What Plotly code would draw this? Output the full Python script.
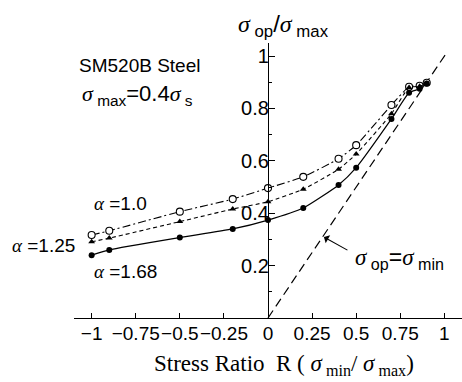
import plotly.graph_objects as go

# Stress ratio R = sigma_min / sigma_max
R = [-1.0, -0.9, -0.5, -0.2, 0.0, 0.2, 0.4, 0.5, 0.7, 0.8, 0.86, 0.9]

# Opening stress ratio sigma_op / sigma_max for each biaxial ratio alpha
op_a100 = [0.317, 0.333, 0.406, 0.454, 0.496, 0.539, 0.608, 0.660, 0.813, 0.883, 0.887, 0.898]
op_a125 = [0.291, 0.305, 0.368, 0.416, 0.444, 0.492, 0.568, 0.626, 0.780, 0.880, 0.885, 0.895]
op_a168 = [0.240, 0.260, 0.307, 0.340, 0.374, 0.420, 0.508, 0.574, 0.760, 0.860, 0.875, 0.895]

# Reference line sigma_op = sigma_min
ref_R = [0.0, 1.02]
ref_op = [0.0, 1.02]

x_ticks = [-1, -0.75, -0.5, -0.25, 0, 0.25, 0.5, 0.75, 1]
x_tick_text = ["\u22121", "\u22120.75", "\u22120.5", "\u22120.25", "0", "0.25", "0.5", "0.75", "1"]
y_ticks = [0.2, 0.4, 0.6, 0.8, 1.0]
y_tick_text = ["0.2", "0.4", "0.6", "0.8", "1"]

SANS = "Liberation Sans, Arial, sans-serif"
SERIF = "Liberation Serif, Times New Roman, serif"
SIG = '<span style="font-family:Liberation Serif;font-style:italic">σ</span>'
ALPHA = '<span style="font-family:Liberation Serif;font-style:italic">α</span>'

fig = go.Figure()

fig.add_trace(go.Scatter(
    x=ref_R, y=ref_op, mode="lines",
    line=dict(color="black", width=1.2, dash="9px,5px"),
    showlegend=False, hoverinfo="skip"))

fig.add_trace(go.Scatter(
    x=R, y=op_a100, mode="lines+markers",
    line=dict(color="black", width=1.1, dash="8px,3px,2px,3px", shape="spline", smoothing=0.5),
    marker=dict(symbol="circle", size=7, color="white", line=dict(width=1.1, color="black")),
    showlegend=False))

fig.add_trace(go.Scatter(
    x=R, y=op_a125, mode="lines+markers",
    line=dict(color="black", width=1.1, dash="4px,3px", shape="spline", smoothing=0.5),
    marker=dict(symbol="triangle-up", size=6, color="black"),
    showlegend=False))

fig.add_trace(go.Scatter(
    x=R, y=op_a168, mode="lines+markers",
    line=dict(color="black", width=1.2, shape="spline", smoothing=0.5),
    marker=dict(symbol="circle", size=6, color="black"),
    showlegend=False))

annotations = [
    dict(x=-1.083, y=0.966, text="SM520B Steel", xanchor="left", yanchor="middle",
         font=dict(size=19, family=SANS)),
    dict(x=-1.066, y=0.851,
         text=f"{SIG}<sub> max</sub>=0.4{SIG}<sub> s</sub>",
         xanchor="left", yanchor="middle", font=dict(size=22, family=SANS)),
    dict(x=-0.998, y=0.439, text=f"{ALPHA} =1.0", xanchor="left", yanchor="middle",
         font=dict(size=19, family=SANS)),
    dict(x=-0.165, y=0.265, xref="paper", yref="paper", text=f"{ALPHA} =1.25",
         xanchor="left", yanchor="middle", font=dict(size=19, family=SANS)),
    dict(x=-0.998, y=0.176, text=f"{ALPHA} =1.68", xanchor="left", yanchor="middle",
         font=dict(size=19, family=SANS)),
    dict(x=0.482, y=0.229, text=f"{SIG}<sub> op</sub>={SIG}<sub> min</sub>",
         xanchor="left", yanchor="middle", font=dict(size=23, family=SANS)),
    # arrow pointing at the sigma_op = sigma_min line
    dict(x=0.317, y=0.309, ax=0.459, ay=0.256, axref="x", ayref="y",
         text="", showarrow=True, arrowhead=1, arrowsize=1.4, arrowwidth=1.1,
         arrowcolor="black"),
    dict(x=0.541, y=1.062, xref="paper", yref="paper",
         text=f"{SIG}<sub> op</sub>/{SIG}<sub> max</sub>",
         xanchor="center", yanchor="middle", font=dict(size=24, family=SANS)),
    dict(x=0.541, y=-0.17, xref="paper", yref="paper",
         text=f"Stress Ratio  R ( {SIG}<sub> min</sub>/ {SIG}<sub> max</sub>)",
         xanchor="center", yanchor="middle", font=dict(size=23, family=SERIF)),
]
for a in annotations:
    a.setdefault("showarrow", False)
    a.setdefault("xref", "x")
    a.setdefault("yref", "y")

fig.update_layout(
    width=462, height=382,
    margin=dict(l=74, r=0, t=43, b=64),
    paper_bgcolor="white", plot_bgcolor="white",
    font=dict(family=SANS, color="black", size=19),
    annotations=annotations,
    xaxis=dict(
        range=[-1.1, 1.1], showgrid=False, zeroline=False,
        showline=True, linecolor="black", linewidth=1.2,
        ticks="inside", ticklen=5, tickwidth=1, tickcolor="black",
        tickvals=x_ticks, ticktext=x_tick_text, tickangle=0,
        tickfont=dict(size=19, family=SANS), ticklabelstandoff=-2,
    ),
    yaxis=dict(
        range=[0, 1.05], showgrid=False, zeroline=False,
        anchor="free", position=0.5,
        showline=True, linecolor="black", linewidth=1.2,
        ticks="inside", ticklen=6, tickwidth=1, tickcolor="black",
        tickvals=y_ticks, ticktext=y_tick_text,
        tickfont=dict(size=20, family=SANS), ticklabelstandoff=-5,
        minor=dict(tickvals=[0.1, 0.3, 0.5, 0.7, 0.9], ticks="inside",
                   ticklen=3, tickcolor="black", showgrid=False),
    ),
)

fig.write_html("out.html")
